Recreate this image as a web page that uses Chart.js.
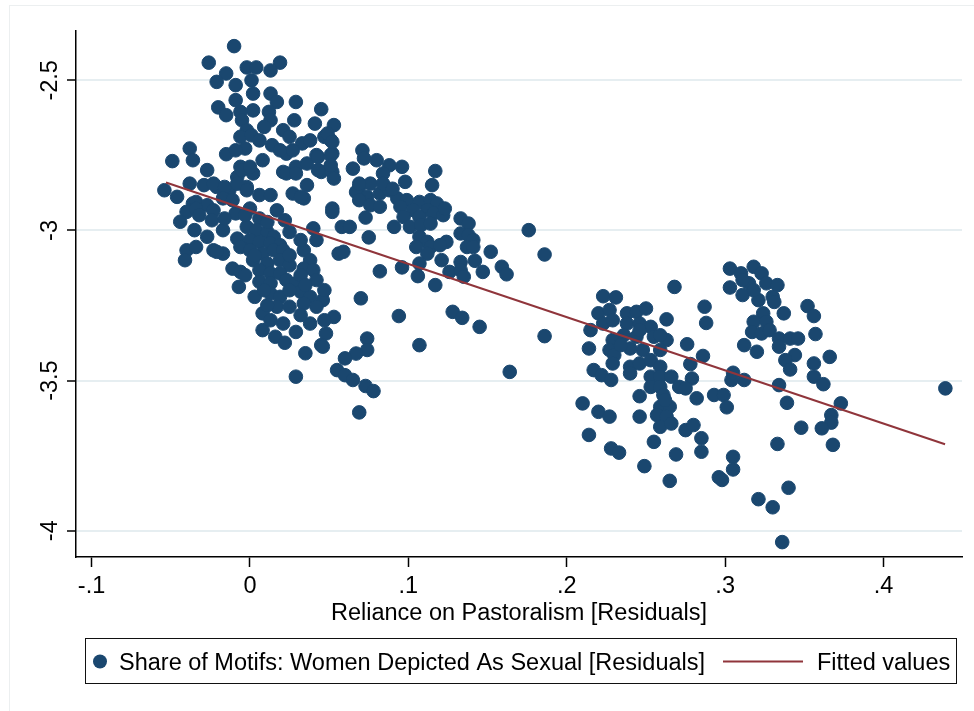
<!DOCTYPE html>
<html>
<head>
<meta charset="utf-8">
<script src="https://cdn.jsdelivr.net/npm/chart.js@4.4.1/dist/chart.umd.min.js"></script>
<style>
  html, body { margin: 0; padding: 0; background: #fff; }
  #wrap { position: relative; width: 974px; height: 711px; overflow: hidden; }
  #frame { position: absolute; left: 9px; top: 5px; width: 980px; height: 720px; border: 1px solid #eceff0; box-sizing: border-box; pointer-events: none; }
  canvas { position: absolute; left: 0; top: 0; }
</style>
</head>
<body>
<div id="wrap">
  <canvas id="scatterChart" width="974" height="711"></canvas>
  <div id="frame"></div>
</div>
<script>
// Axis setup
const xTicks = [-0.1, 0, 0.1, 0.2, 0.3, 0.4];
const xTickLabels = ['-.1', '0', '.1', '.2', '.3', '.4'];
const yTicks = [-4, -3.5, -3, -2.5];
const yTickLabels = ['-4', '-3.5', '-3', '-2.5'];
const xTitle = 'Reliance on Pastoralism [Residuals]';
const scatterLabel = 'Share of Motifs: Women Depicted As Sexual [Residuals]';
const fitLabel = 'Fitted values';

// Fitted line end points
const fitX = [-0.053, 0.4388];
const fitY = [-2.840, -3.712];

// Residual points
const leftCluster = [
  [-0.010,-2.386],[-0.026,-2.441],[0.019,-2.441],[-0.002,-2.457],[0.004,-2.457],[0.013,-2.467],[-0.015,-2.477],[-0.021,-2.505],[-0.009,-2.516],[0.001,-2.500],
  [0.002,-2.544],[0.013,-2.544],[0.017,-2.572],[0.029,-2.572],[-0.020,-2.590],[-0.009,-2.566],[0.002,-2.600],[-0.015,-2.616],[-0.006,-2.605],[0.012,-2.605],
  [0.045,-2.596],[0.028,-2.633],[0.041,-2.644],[0.053,-2.649],[-0.005,-2.633],[0.013,-2.633],[-0.002,-2.666],[0.009,-2.655],[0.021,-2.666],[-0.006,-2.688],
  [0.001,-2.683],[0.025,-2.688],[0.047,-2.688],[0.051,-2.699],[0.014,-2.716],[0.033,-2.710],[-0.038,-2.727],[-0.003,-2.727],[-0.015,-2.746],[0.023,-2.744],
  [0.042,-2.749],[-0.049,-2.769],[-0.036,-2.766],[0.052,-2.744],[-0.027,-2.799],[-0.006,-2.788],[0.002,-2.810],[0.021,-2.805],[0.029,-2.788],[0.036,-2.777],
  [0.045,-2.805],[0.052,-2.805],[-0.038,-2.844],[-0.029,-2.849],[-0.054,-2.866],[-0.046,-2.888],[-0.021,-2.855],[-0.013,-2.866],[-0.008,-2.822],[-0.002,-2.855],
  [0.006,-2.882],[0.013,-2.882],[0.027,-2.877],[0.034,-2.893],[0.036,-2.849],[0.052,-2.927],[-0.036,-2.910],
  [-0.005,-2.799],[0.000,-2.788],[0.023,-2.810],[0.043,-2.755],[0.051,-2.749],[0.043,-2.799],[0.053,-2.827],[0.052,-2.938],
  [-0.023,-2.844],[-0.016,-2.855],[-0.008,-2.844],[-0.002,-2.866],[-0.034,-2.905],[-0.027,-2.916],[-0.017,-2.893],[-0.011,-2.899],
  [-0.040,-2.938],[-0.023,-2.933],[-0.009,-2.943],[0.000,-2.927],[0.017,-2.933],[0.022,-2.966],[-0.044,-2.971],[-0.024,-2.966],[0.006,-2.960],[0.040,-2.993],
  [-0.017,-2.999],[-0.002,-2.988],[0.004,-2.999],[0.011,-3.005],[0.015,-3.021],[-0.027,-3.021],[-0.008,-3.027],[0.000,-3.032],[0.006,-3.038],[0.013,-3.043],
  [0.019,-3.049],[0.042,-3.032],[-0.040,-3.066],[-0.034,-3.055],[-0.023,-3.066],[-0.006,-3.055],[0.000,-3.066],[0.008,-3.077],[0.015,-3.066],[0.021,-3.066],
  [-0.041,-3.099],[-0.017,-3.077],[0.034,-3.066],[0.056,-3.077],[0.038,-3.099],[0.002,-3.099],[0.011,-3.110],[0.019,-3.099],[0.025,-3.116],[-0.011,-3.127],
  [0.006,-3.132],[0.013,-3.143],[0.019,-3.143],[0.034,-3.127],[0.040,-3.132],[-0.007,-3.188],[0.006,-3.171],[0.013,-3.176],[0.023,-3.165],[0.029,-3.176],
  [0.042,-3.165],[0.003,-3.221],[0.013,-3.210],[0.019,-3.221],[0.032,-3.204],[0.038,-3.221],[0.046,-3.232],[0.008,-3.276],[0.017,-3.254],[0.025,-3.254],
  [0.034,-3.243],[0.042,-3.254],[0.053,-3.288],[0.008,-3.332],[0.021,-3.310],[0.029,-3.338],[0.038,-3.310],[0.048,-3.343],
  [-0.034,-2.927],[-0.021,-3.071],[-0.006,-3.138],[0.011,-3.249],[0.016,-3.354],[0.022,-3.374],[0.035,-3.409],[0.045,-3.382],[0.029,-3.487],[0.055,-3.465],
  [0.027,-2.733],[0.029,-2.810],[0.032,-2.888],[0.049,-2.677],[0.052,-2.705],[0.051,-2.783],[0.046,-3.387],
  [-0.003,-2.949],[0.011,-2.972],[0.025,-3.005],[0.032,-3.032],[0.003,-3.083],[0.025,-3.083],[0.032,-3.149],[0.009,-3.199],[0.025,-3.199],[0.035,-3.182],
  [0.047,-3.199],[0.032,-3.282],[0.047,-3.299],[0.013,-3.299],[-0.003,-3.149],[0.006,-2.700],[0.019,-2.733],[-0.009,-2.733],[0.008,-2.766],[0.038,-2.700],
  [-0.032,-2.949],[-0.016,-2.960],[-0.035,-2.999]
];

const middleCluster = [
  [0.071,-2.733],[0.072,-2.760],[0.080,-2.766],[0.088,-2.783],[0.096,-2.788],[0.065,-2.794],[0.117,-2.802],[0.084,-2.810],[0.098,-2.838],[0.069,-2.855],
  [0.076,-2.844],[0.115,-2.849],[0.067,-2.872],[0.074,-2.888],[0.082,-2.877],[0.088,-2.866],[0.093,-2.893],[0.099,-2.899],[0.069,-2.899],[0.107,-2.905],
  [0.114,-2.899],[0.118,-2.910],[0.076,-2.916],[0.082,-2.921],[0.095,-2.921],[0.103,-2.932],[0.112,-2.932],[0.097,-2.955],[0.107,-2.955],[0.116,-2.943],
  [0.122,-2.949],[0.073,-2.957],[0.133,-2.960],[0.138,-2.977],[0.091,-2.988],[0.101,-2.988],[0.108,-2.982],[0.114,-2.977],[0.058,-2.988],[0.063,-2.988],
  [0.075,-3.023],[0.107,-3.021],[0.112,-3.038],[0.124,-3.038],[0.133,-3.010],[0.138,-3.016],[0.141,-3.032],[0.105,-3.055],[0.114,-3.055],[0.120,-3.049],
  [0.137,-3.055],[0.141,-3.055],[0.152,-3.071],[0.059,-3.071],[0.112,-3.077],[0.121,-3.099],[0.133,-3.105],[0.142,-3.101],[0.107,-3.110],[0.159,-3.121],
  [0.162,-3.146],[0.147,-3.138],[0.126,-3.138],[0.133,-3.132],[0.135,-3.154],[0.082,-3.136],[0.096,-3.123],[0.106,-3.152],[0.117,-3.182],[0.070,-3.226],
  [0.094,-3.285],[0.128,-3.271],[0.134,-3.291],[0.145,-3.321],[0.107,-3.382],[0.164,-3.471],[0.176,-2.999],[0.186,-3.080],[0.186,-3.352],
  [0.069,-2.844],[0.084,-2.844],[0.090,-2.861],[0.123,-2.927],
  [0.074,-3.360],[0.074,-3.398],[0.067,-3.410],[0.060,-3.426],[0.060,-3.482],[0.065,-3.498],[0.073,-3.518],[0.078,-3.535],[0.069,-3.606]
];

const rightCluster = [
  [0.268,-3.188],[0.223,-3.219],[0.231,-3.223],[0.303,-3.190],[0.287,-3.254],[0.220,-3.276],[0.227,-3.265],[0.238,-3.276],[0.244,-3.271],[0.250,-3.260],
  [0.263,-3.296],[0.288,-3.308],[0.223,-3.310],[0.229,-3.299],[0.215,-3.332],[0.238,-3.310],[0.246,-3.310],[0.253,-3.321],[0.255,-3.354],[0.236,-3.349],
  [0.244,-3.354],[0.229,-3.365],[0.263,-3.365],[0.276,-3.379],[0.214,-3.393],[0.227,-3.398],[0.230,-3.415],[0.240,-3.393],[0.248,-3.398],[0.259,-3.398],
  [0.286,-3.418],[0.229,-3.443],[0.240,-3.454],[0.246,-3.443],[0.253,-3.432],[0.278,-3.445],[0.259,-3.454],[0.217,-3.465],[0.222,-3.482],[0.228,-3.498],
  [0.240,-3.476],[0.253,-3.487],[0.259,-3.487],[0.266,-3.487],[0.279,-3.493],[0.253,-3.521],[0.259,-3.521],[0.271,-3.521],[0.275,-3.526],[0.304,-3.498],
  [0.312,-3.498],[0.246,-3.552],[0.261,-3.548],[0.282,-3.559],[0.293,-3.548],[0.299,-3.548],[0.210,-3.576],[0.259,-3.587],[0.265,-3.587],[0.301,-3.589],
  [0.220,-3.604],[0.227,-3.620],[0.246,-3.620],[0.257,-3.615],[0.263,-3.620],[0.259,-3.654],[0.266,-3.643],[0.275,-3.665],[0.280,-3.648],[0.214,-3.681],
  [0.255,-3.704],[0.285,-3.692],[0.285,-3.737],[0.228,-3.726],[0.233,-3.740],[0.269,-3.746],[0.305,-3.754],[0.305,-3.796],[0.249,-3.785],[0.296,-3.822],
  [0.298,-3.831],[0.265,-3.834],
  [0.303,-3.127],[0.310,-3.143],[0.318,-3.121],[0.323,-3.143],[0.311,-3.215],[0.315,-3.176],[0.326,-3.176],[0.333,-3.182],[0.321,-3.232],[0.330,-3.221],
  [0.331,-3.238],[0.352,-3.252],[0.356,-3.285],[0.337,-3.276],[0.324,-3.276],[0.318,-3.304],[0.326,-3.304],[0.317,-3.338],[0.323,-3.343],[0.328,-3.332],
  [0.334,-3.360],[0.341,-3.360],[0.346,-3.360],[0.357,-3.345],[0.312,-3.382],[0.320,-3.404],[0.334,-3.387],[0.344,-3.415],[0.338,-3.432],[0.341,-3.463],
  [0.356,-3.443],[0.366,-3.421],[0.305,-3.474],[0.356,-3.487],[0.362,-3.512],[0.334,-3.515],[0.439,-3.526],[0.339,-3.574],[0.373,-3.576],[0.367,-3.615],
  [0.367,-3.640],[0.361,-3.659],[0.348,-3.657],[0.333,-3.711],[0.368,-3.714],[0.340,-3.857],[0.321,-3.895],[0.330,-3.922],[0.336,-4.038],
  [0.311,-3.165],[0.318,-3.199],
  [0.246,-3.332],[0.262,-3.565],[0.234,-3.382],[0.259,-3.349]
];

const navy = '#1a476f';
const maroon = '#90353b';
const textFont = '23.5px "Liberation Sans", Arial, Helvetica, sans-serif';

const allPoints = leftCluster.concat(middleCluster, rightCluster).map(p => ({ x: p[0], y: p[1] }));

// Draws the Stata style labels, axis title and boxed legend
const stataText = {
    id: 'stataText',
    afterDraw(chart) {
        const c = chart.ctx;
        const xs = chart.scales.x;
        const ys = chart.scales.y;
        c.save();
        c.fillStyle = '#000';
        c.font = textFont;

        // rotated y tick labels
        yTicks.forEach((v, i) => {
            c.save();
            c.translate(57, ys.getPixelForValue(v));
            c.rotate(-Math.PI / 2);
            c.textAlign = 'center';
            c.textBaseline = 'alphabetic';
            c.fillText(yTickLabels[i], 0, 0);
            c.restore();
        });

        // x tick labels
        c.textAlign = 'center';
        c.textBaseline = 'alphabetic';
        xTicks.forEach((v, i) => {
            c.fillText(xTickLabels[i], xs.getPixelForValue(v), 593);
        });

        // x axis title
        c.fillText(xTitle, (xs.left + xs.right) / 2, 620);

        // legend box
        c.strokeStyle = '#111';
        c.lineWidth = 1;
        c.strokeRect(85.5, 638.5, 871, 45);

        c.fillStyle = navy;
        c.beginPath();
        c.arc(100, 661.5, 7, 0, Math.PI * 2);
        c.fill();

        c.fillStyle = '#000';
        c.textAlign = 'left';
        c.fillText(scatterLabel, 119, 670);

        c.strokeStyle = maroon;
        c.lineWidth = 2;
        c.beginPath();
        c.moveTo(723, 661.5);
        c.lineTo(803, 661.5);
        c.stroke();

        c.fillText(fitLabel, 817, 670);
        c.restore();
    }
};

const ctx = document.getElementById('scatterChart').getContext('2d');
const scatterChart = new Chart(ctx, {
    type: 'scatter',
    data: {
        datasets: [
            {
                type: 'line',
                label: fitLabel,
                data: fitX.map((x, i) => ({ x: x, y: fitY[i] })),
                borderColor: maroon,
                borderWidth: 2,
                pointRadius: 0,
                fill: false,
                order: 0
            },
            {
                label: scatterLabel,
                data: allPoints,
                backgroundColor: navy,
                borderColor: navy,
                borderWidth: 1,
                pointRadius: 6.8,
                order: 1
            }
        ]
    },
    options: {
        responsive: false,
        animation: false,
        layout: {
            padding: { left: 0, top: 31, right: 12, bottom: 0 }
        },
        plugins: {
            legend: { display: false },
            tooltip: { enabled: false }
        },
        scales: {
            x: {
                type: 'linear',
                min: -0.1098,
                max: 0.4495,
                afterBuildTicks: s => { s.ticks = xTicks.map(v => ({ value: v })); },
                afterFit: s => { s.height = 154; },
                ticks: { display: false },
                grid: {
                    drawOnChartArea: false,
                    tickLength: 10,
                    tickColor: '#000',
                    tickWidth: 1.5
                },
                border: { color: '#000', width: 1.5 }
            },
            y: {
                type: 'linear',
                min: -4.0876,
                max: -2.3356,
                afterBuildTicks: s => { s.ticks = yTicks.map(v => ({ value: v })); },
                afterFit: s => { s.width = 76; },
                ticks: { display: false },
                grid: {
                    color: '#e6eef1',
                    lineWidth: 2,
                    tickLength: 9,
                    tickColor: '#000',
                    tickWidth: 1.5
                },
                border: { color: '#000', width: 1.5 }
            }
        }
    },
    plugins: [stataText]
});
</script>
</body>
</html>
